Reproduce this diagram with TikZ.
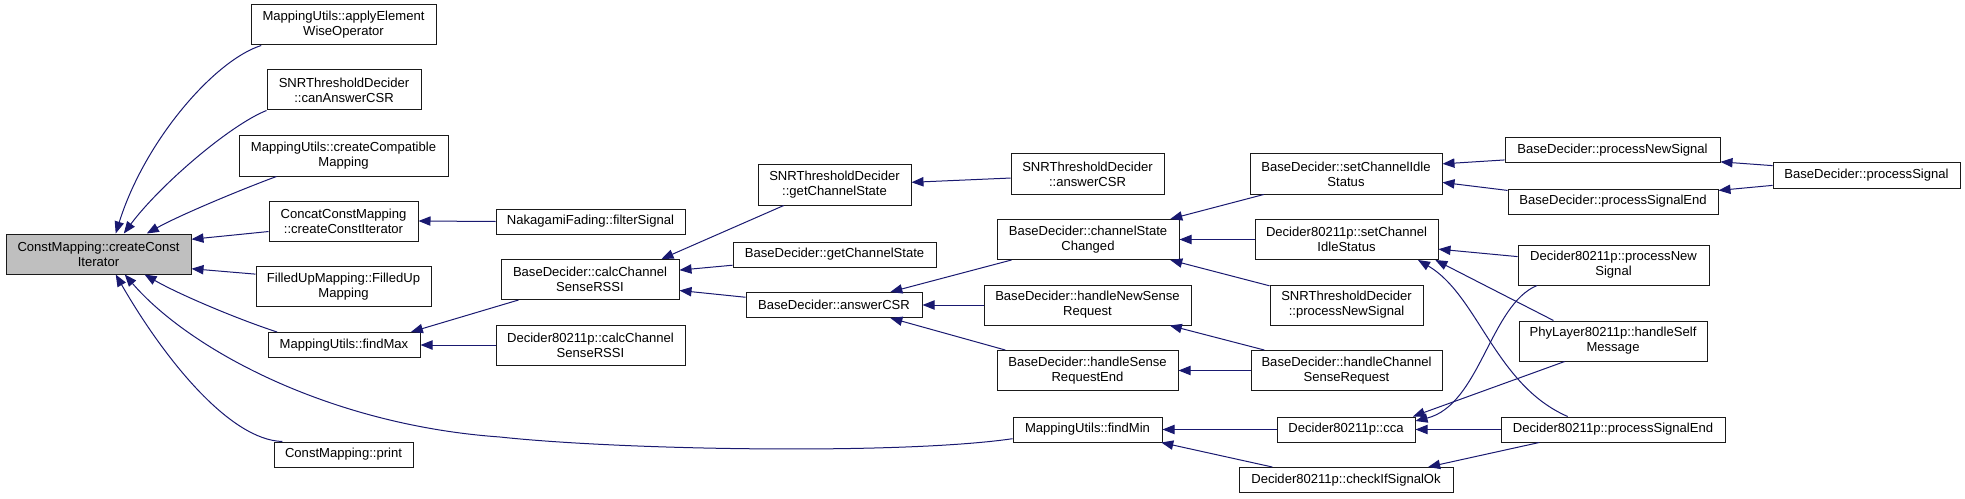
\documentclass[tikz,border=0pt]{standalone}
\usepackage{fontspec}
\setmainfont{Liberation Sans}
\usetikzlibrary{arrows.meta}
\definecolor{callblue}{HTML}{191970}
\definecolor{boxgray}{HTML}{BFBFBF}
\definecolor{boxline}{HTML}{1A1A1A}

\begin{document}
\begin{tikzpicture}[
  x=0.75pt,
  y=-0.75pt,
  every node/.style={font=\fontsize{9.8}{11.25}\selectfont},
  fn/.style={draw=boxline, line width=0.75pt, fill=white, align=center, inner sep=0pt},
  fnone/.style={fn, minimum height=18.75pt},
  fntwo/.style={fn, minimum height=30pt},
  wd/.style={minimum width=#1*0.75pt},
  call/.style={callblue, line width=0.75pt, -{Triangle[length=9pt, width=7pt]}}
]
  \useasboundingbox (0,0) rectangle (1965,499);

  % the function itself
  \node[fntwo, wd=185, fill=boxgray] (main) at (98.5,254) {ConstMapping::createConst\\Iterator};

  % first rank of callers
  \node[fntwo, wd=185] (apply) at (343.5,25) {MappingUtils::applyElement\\WiseOperator};
  \node[fntwo, wd=154] (canAns) at (344,90) {SNRThresholdDecider\\::canAnswerCSR};
  \node[fntwo, wd=209] (compat) at (343.5,156) {MappingUtils::createCompatible\\Mapping};
  \node[fntwo, wd=149] (concat) at (343.5,221) {ConcatConstMapping\\::createConstIterator};
  \node[fntwo, wd=175] (filled) at (343.5,286.5) {FilledUpMapping::FilledUp\\Mapping};
  \node[fnone, wd=152] (findMax) at (344,345) {MappingUtils::findMax};
  \node[fnone, wd=139] (print) at (343.5,454.5) {ConstMapping::print};

  \node[fnone, wd=189] (naka) at (590.5,221.5) {NakagamiFading::filterSignal};
  \node[fntwo, wd=178] (bdCalc) at (590,279.5) {BaseDecider::calcChannel\\SenseRSSI};
  \node[fntwo, wd=189] (d80Calc) at (590.5,345) {Decider80211p::calcChannel\\SenseRSSI};

  \node[fntwo, wd=153] (snrGet) at (834.5,185) {SNRThresholdDecider\\::getChannelState};
  \node[fnone, wd=203] (bdGet) at (834.5,254.5) {BaseDecider::getChannelState};
  \node[fnone, wd=176] (bdAnswer) at (834,305) {BaseDecider::answerCSR};

  \node[fntwo, wd=153] (snrAnswer) at (1087.5,174) {SNRThresholdDecider\\::answerCSR};
  \node[fntwo, wd=182] (chState) at (1088,239.5) {BaseDecider::channelState\\Changed};
  \node[fntwo, wd=207] (newSense) at (1087.5,305) {BaseDecider::handleNewSense\\Request};
  \node[fntwo, wd=181] (senseEnd) at (1087.5,370.5) {BaseDecider::handleSense\\RequestEnd};
  \node[fnone, wd=149] (findMin) at (1087.5,429.5) {MappingUtils::findMin};

  \node[fntwo, wd=192] (bdIdle) at (1346,174) {BaseDecider::setChannelIdle\\Status};
  \node[fntwo, wd=183] (d80Idle) at (1346.5,239.5) {Decider80211p::setChannel\\IdleStatus};
  \node[fntwo, wd=153] (snrProc) at (1346.5,305) {SNRThresholdDecider\\::processNewSignal};
  \node[fntwo, wd=191] (chSense) at (1346.5,370.5) {BaseDecider::handleChannel\\SenseRequest};
  \node[fnone, wd=138] (cca) at (1346,429.5) {Decider80211p::cca};
  \node[fnone, wd=214] (sigOk) at (1346,480) {Decider80211p::checkIfSignalOk};

  \node[fnone, wd=215] (bdProcNew) at (1612.5,150.5) {BaseDecider::processNewSignal};
  \node[fnone, wd=210] (bdProcEnd) at (1613,201.5) {BaseDecider::processSignalEnd};
  \node[fntwo, wd=191] (d80ProcNew) at (1613.5,265) {Decider80211p::processNew\\Signal};
  \node[fntwo, wd=188] (phySelf) at (1613,341) {PhyLayer80211p::handleSelf\\Message};
  \node[fnone, wd=224] (d80ProcEnd) at (1613,429.5) {Decider80211p::processSignalEnd};

  \node[fnone, wd=187] (procSig) at (1866.5,175.5) {BaseDecider::processSignal};

  % calls into createConstIterator
  \draw[call] (apply.-166) .. controls (215,60) and (145,140) .. (main.50);
  \draw[call] (canAns.south west) .. controls (230,125) and (160,185) .. (main.39);
  \draw[call] (compat.-163) .. controls (240,190) and (180,215) .. (main.23);
  \draw[call] (concat.-172) -- (main.9);
  \draw[call] (filled.172) -- (main.-9);
  \draw[call] (findMax.169) .. controls (240,320) and (180,295) .. (main.-24);
  \draw[call] (findMin.-173) .. controls (900,455) and (620,450) .. (500,437)
    .. controls (330,425) and (190,350) .. (main.-38);
  \draw[call] (print.168) .. controls (230,440) and (165,360) .. (main.-50);

  % second rank
  \draw[call] (naka.west) -- (concat.east);
  \draw[call] (bdCalc.-164) -- (findMax.11);
  \draw[call] (d80Calc.west) -- (findMax.east);
  \draw[call] (snrGet.-158) -- (bdCalc.16);
  \draw[call] (bdGet.-174) -- (bdCalc.6);
  \draw[call] (bdAnswer.175) -- (bdCalc.-7);
  \draw[call] (snrAnswer.-177) -- (snrGet.2);
  \draw[call] (chState.-165) -- (bdAnswer.13);
  \draw[call] (newSense.west) -- (bdAnswer.east);
  \draw[call] (senseEnd.166) -- (bdAnswer.-13);
  \draw[call] (bdIdle.-166) -- (chState.14);
  \draw[call] (d80Idle.west) -- (chState.east);
  \draw[call] (snrProc.166) -- (chState.-14);
  \draw[call] (chSense.166) -- (newSense.-14);
  \draw[call] (chSense.west) -- (senseEnd.east);
  \draw[call] (cca.west) -- (findMin.east);
  \draw[call] (sigOk.170) -- (findMin.-10);

  % outer callers
  \draw[call] (bdProcNew.-175) -- (bdIdle.6);
  \draw[call] (bdProcEnd.174) -- (bdIdle.-5);
  \draw[call] (procSig.174) -- (bdProcNew.-6);
  \draw[call] (procSig.-174) -- (bdProcEnd.6);
  \draw[call] (d80ProcNew.175) -- (d80Idle.-6);
  \draw[call] (phySelf.161) -- (d80Idle.-13);
  \draw[call] (d80ProcEnd.164) .. controls (1495,385) and (1478,295) .. (d80Idle.-16);
  \draw[call] (d80ProcNew.-165) .. controls (1490,305) and (1480,405) .. (cca.7);
  \draw[call] (phySelf.-157) -- (cca.11);
  \draw[call] (d80ProcEnd.west) -- (cca.east);
  \draw[call] (d80ProcEnd.-170) -- (sigOk.9);
\end{tikzpicture}
\end{document}
